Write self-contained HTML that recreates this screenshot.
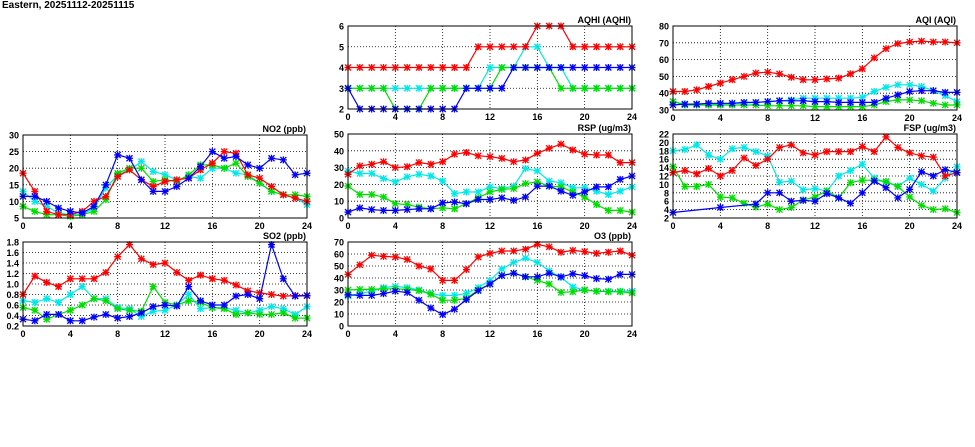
<!DOCTYPE html>
<html><head><meta charset="utf-8">
<style>
html,body{margin:0;padding:0;background:#fff;}
body{width:975px;height:447px;position:relative;overflow:hidden;font-family:"Liberation Sans",sans-serif;}
#title{position:absolute;left:2px;top:0px;font-size:10px;font-weight:bold;}
svg{position:absolute;left:0;top:0;}
</style></head>
<body>
<div id="title">Eastern, 20251112-20251115</div>
<svg id="chart" width="975" height="447"></svg>
<script>
const hours = [0,1,2,3,4,5,6,7,8,9,10,11,12,13,14,15,16,17,18,19,20,21,22,23,24];
const xTicks = [0,4,8,12,16,20,24];

const aqhiRed   = [4,4,4,4,4,4,4,4,4,4,4,5,5,5,5,5,6,6,6,5,5,5,5,5,5];
const aqhiCyan  = [3,3,3,3,3,3,3,3,3,3,3,3,4,4,4,5,5,4,4,3,3,3,3,3,3];
const aqhiGreen = [3,3,3,3,2,2,2,3,3,3,3,3,3,4,4,4,4,4,3,3,3,3,3,3,3];
const aqhiBlue  = [3,2,2,2,2,2,2,2,2,2,3,3,3,3,4,4,4,4,4,4,4,4,4,4,4];
const aqhiTicks = [2,3,4,5,6];

const aqiRed   = [41,41,42,44,46,48,50,52,52.5,51.5,49.5,48,48,48.5,49,51.5,54.5,61,66.5,69.5,70.5,71,70.5,70.5,70];
const aqiCyan  = [35,33.5,33.5,33.5,33.5,34,34,34.5,35,35.5,36,37,37,37,37,37,37.5,41,43.5,45,45,44,41.5,38.5,35];
const aqiGreen = [35,33,33,33,33,33,33,33,32.5,32.5,32.5,32.5,32,32,32,32,32,33,35,36,36,35.5,34,33,33];
const aqiBlue  = [33,33.5,33.5,34,34,34,34.5,34.5,35,35.5,35.5,35.5,35,35,34.5,34.5,34.5,34.5,37,39,41,41.5,41.5,40.5,40.5];
const aqiTicks = [30,40,50,60,70,80];

const no2Red   = [18.5,13,7,6,6,7,10,11.5,17.5,19.5,16.5,14.5,16,16.5,17,19.5,21.5,25,24.5,18,17,14.5,12,11,10];
const no2Cyan  = [13,10,8.5,6.5,6,6,8,14,18,19.5,22,19,18,16.5,17.5,17,20,20,18.5,18,15.5,13,12,11,9];
const no2Green = [8.5,7,6,6,5.5,6,7,10.5,18.5,20,20,16,16.5,16,18,21,21,20,21.5,17.5,15.5,13,12,12,11.5];
const no2Blue  = [11.5,11.5,10,8,7,6.5,8.5,15,24,23,16.5,13,13,14.5,17,20.5,25,23,23.5,21,20,23,22.5,18,18.5];
const no2Ticks = [5,10,15,20,25,30];

const rspRed   = [26,31,32,33.5,30,30.5,33,32,33.5,38,39,37,36.5,35.5,33.5,34.5,38.5,41.5,44,40.5,38,37.5,37.5,33,33];
const rspCyan  = [28,26.5,26.5,23.5,21.5,24.5,26,25,22,14.5,15.5,15.5,18.5,17.5,19,29.5,28,22,21,18,18,16,14,16,18.5];
const rspGreen = [19,14,14,12.5,8.5,8,6.5,5.5,6,5.5,8.5,12,15.5,17,17.5,20.5,21.5,19,18.5,15.5,12.5,8,4.5,4.5,3.5];
const rspBlue  = [3.5,6,5,4.5,4.5,5,5.5,5.5,9,9.5,8.5,11,11,12,10.5,12.5,19,19,16,13.5,15.5,18.5,18.5,23,25];
const rspTicks = [0,10,20,30,40,50];

const fspRed   = [12.8,13.3,12.5,13.8,12,13.3,16.3,14.5,16,18.8,19.4,17.5,17,17.8,17.8,17.8,19,17.8,21.3,18.8,17.5,16.8,16.5,12,12.8];
const fspCyan  = [18,18.3,19.4,17,16,18.5,18.8,17.8,16.8,10.5,10.8,8.7,9,8.4,12,13.3,14.8,11.5,10.5,9.6,11.5,10,8.4,11.5,14.2];
const fspGreen = [14.2,9.5,9.5,10,7,6.8,5.5,4.6,5.3,4,4.5,6.3,7,8.5,6.8,10.4,11,11,10.7,9.5,7,5,4,4.2,3.3];
const fspBlue  = [3.3,null,null,null,4.5,null,null,5.3,8,8,6,6.2,6,7.8,6.8,5.5,8,10.8,9.2,6.8,8.8,13,12,13.5,12.8];
const fspTicks = [2,4,6,8,10,12,14,16,18,20,22];

const so2Red   = [0.8,1.15,1.03,0.95,1.1,1.1,1.1,1.22,1.52,1.75,1.48,1.37,1.4,1.22,1.07,1.17,1.1,1.07,0.98,0.87,0.83,0.8,0.77,0.78,0.78];
const so2Cyan  = [0.68,0.65,0.72,0.65,0.8,0.95,0.72,0.72,0.55,0.53,0.38,0.48,0.5,0.6,0.8,0.53,0.55,0.55,0.5,0.45,0.5,0.57,0.53,0.42,0.57];
const so2Green = [0.55,0.5,0.33,0.42,0.5,0.6,0.72,0.68,0.53,0.5,0.48,0.95,0.65,0.6,0.68,0.65,0.55,0.53,0.42,0.45,0.42,0.42,0.45,0.35,0.35];
const so2Blue  = [0.33,0.3,0.42,0.42,0.3,0.3,0.37,0.42,0.35,0.38,0.45,0.57,0.6,0.58,0.95,0.68,0.6,0.6,0.77,0.8,0.72,1.75,1.1,0.77,0.78];
const so2Ticks = [0.2,0.4,0.6,0.8,1.0,1.2,1.4,1.6,1.8];

const o3Red   = [43,51,59,58,57.5,55.5,50,47.5,38,38,47,57.5,60.5,62.5,62.5,64,68,66,61.5,63,62,60.5,61.5,62.5,59];
const o3Cyan  = [25,27,29,32,33,32,30,27,25.5,25.5,27,32,38,47.5,53,56.5,53,46,40.5,32.5,30,29,29,29,29];
const o3Green = [30,30.5,30.5,31,31,30.5,29.5,26.5,21.5,21.5,23,30,35,42,44,41,38,35,28,28.5,30,29,28.5,28.5,27.5];
const o3Blue  = [26,25.5,25.5,27,29,28,21.5,15,9.5,14,22,29.5,35,42,44,41,41,44,41,43.5,42,39.5,39,43,43];
const o3Ticks = [0,10,20,30,40,50,60,70];

const panels = [
 {name:'aqhi',title:'AQHI (AQHI)',l:348,r:632,t:26,b:109,ticks:aqhiTicks,dec:0,series:[aqhiCyan,aqhiGreen,aqhiRed,aqhiBlue]},
 {name:'aqi',title:'AQI (AQI)',l:673,r:957,t:26,b:110,ticks:aqiTicks,dec:0,series:[aqiCyan,aqiGreen,aqiRed,aqiBlue]},
 {name:'no2',title:'NO2 (ppb)',l:23,r:307,t:135,b:218,ticks:no2Ticks,dec:0,series:[no2Cyan,no2Green,no2Red,no2Blue]},
 {name:'rsp',title:'RSP (ug/m3)',l:348,r:632,t:134,b:218,ticks:rspTicks,dec:0,series:[rspCyan,rspGreen,rspRed,rspBlue]},
 {name:'fsp',title:'FSP (ug/m3)',l:673,r:957,t:134,b:218,ticks:fspTicks,dec:0,series:[fspCyan,fspGreen,fspRed,fspBlue]},
 {name:'so2',title:'SO2 (ppb)',l:23,r:307,t:242,b:326,ticks:so2Ticks,dec:1,series:[so2Cyan,so2Green,so2Red,so2Blue]},
 {name:'o3',title:'O3 (ppb)',l:348,r:632,t:242,b:326,ticks:o3Ticks,dec:0,series:[o3Cyan,o3Green,o3Red,o3Blue]}
];
const colors = ['#00e8e8','#00dd00','#ff0000','#0000ff'];
const markColors = ['#66ffff','#66ff66','#ff6666','#6666ff'];
const seriesNames = ['cyan','green','red','blue'];

const NS='http://www.w3.org/2000/svg';
const svg=document.getElementById('chart');
function mk(tag,attrs,parent){const e=document.createElementNS(NS,tag);for(const k in attrs)e.setAttribute(k,attrs[k]);(parent||svg).appendChild(e);return e;}

panels.forEach(p=>{
  const g=mk('g',{});
  
  
  const ymin=p.ticks[0], ymax=p.ticks[p.ticks.length-1];
  const xs=v=>p.l+(v-0)/(24-0)*(p.r-p.l);
  const ys=v=>p.b-(v-ymin)/(ymax-ymin)*(p.b-p.t);
  // grid
  p.ticks.forEach((tv,i)=>{
    const y=ys(tv);
    if(i>0&&i<p.ticks.length-1){const gl=mk('line',{x1:p.l,x2:p.r,y1:y,y2:y,stroke:'#000','stroke-width':0.8,'stroke-dasharray':'1,2'},g);
      
      }
    const t=mk('text',{x:p.l-4,y:y+3.5,'text-anchor':'end','font-size':'9','font-weight':'bold','font-family':'Liberation Sans, sans-serif'},g);
    t.textContent=p.dec?tv.toFixed(p.dec):String(tv);
    
    
  });
  xTicks.forEach((tv,i)=>{
    const x=xs(tv);
    if(i>0&&i<xTicks.length-1){const gl=mk('line',{x1:x,x2:x,y1:p.t,y2:p.b,stroke:'#000','stroke-width':0.8,'stroke-dasharray':'1,2'},g);
      
      }
    const t=mk('text',{x:x,y:p.b+11,'text-anchor':'middle','font-size':'9','font-weight':'bold','font-family':'Liberation Sans, sans-serif'},g);
    t.textContent=String(tv);
    
    
  });
  const title=mk('text',{x:p.r-1,y:p.t-3,'text-anchor':'end','font-size':'9','font-weight':'bold','font-family':'Liberation Sans, sans-serif'},g);
  title.textContent=p.title;
  
  
  p.series.forEach((arr,si)=>{
    const pts=[];
    arr.forEach((v,i)=>{if(v!==null&&v!==undefined)pts.push([xs(hours[i]),ys(v)]);});
    const line=mk('polyline',{points:pts.map(q=>q[0].toFixed(1)+','+q[1].toFixed(1)).join(' '),fill:'none',stroke:colors[si],'stroke-width':1.2},g);
    
    
    pts.forEach(q=>{
      const m=mk('path',{d:`M${q[0]-3},${q[1]-3}L${q[0]+3},${q[1]+3}M${q[0]-3},${q[1]+3}L${q[0]+3},${q[1]-3}M${q[0]-3.5},${q[1]}L${q[0]+3.5},${q[1]}M${q[0]},${q[1]-3.5}L${q[0]},${q[1]+3.5}`,stroke:colors[si],'stroke-width':1.3,fill:'none'},g);
      
      
    });
  });
  const border=mk('rect',{x:p.l,y:p.t,width:p.r-p.l,height:p.b-p.t,fill:'none',stroke:'#000','stroke-width':1},g);
  
  
});
</script>
</body></html>
